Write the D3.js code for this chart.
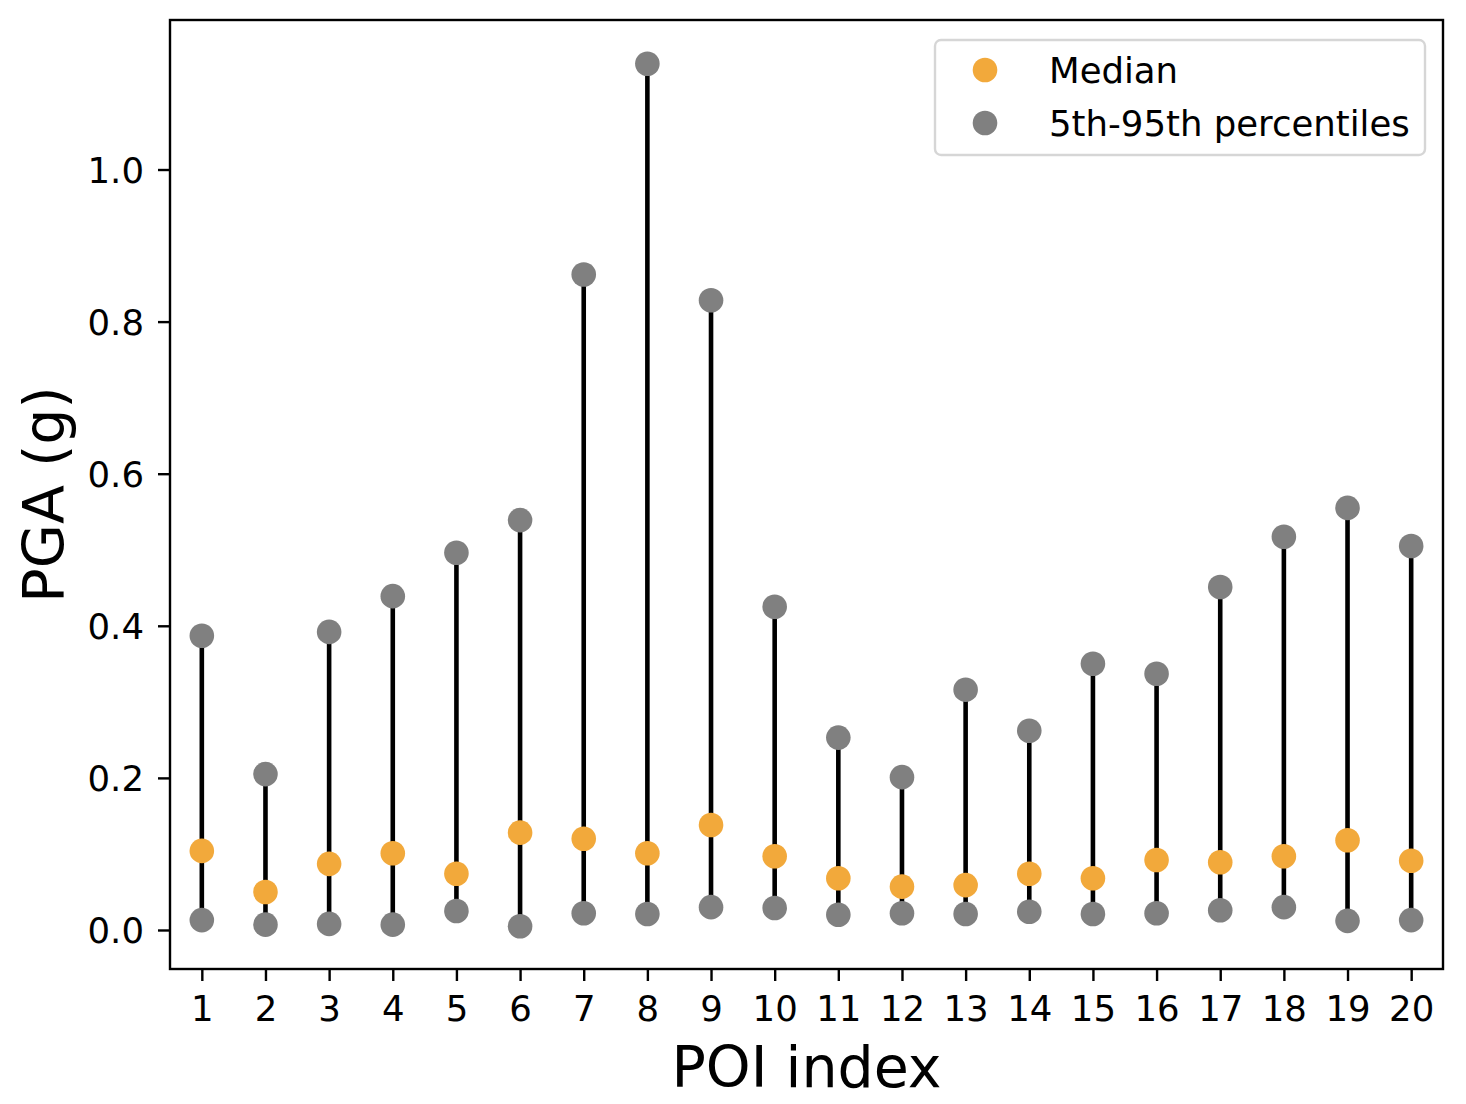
<!DOCTYPE html>
<html>
<head>
<meta charset="utf-8">
<script src="https://cdn.jsdelivr.net/npm/d3@7"></script>
<style>
  html, body { margin: 0; padding: 0; background: #fff; }
  svg { display: block; }
  text { font-family: "DejaVu Sans", sans-serif; fill: #000; }
</style>
</head>
<body>
<script>
const poi = [1,2,3,4,5,6,7,8,9,10,11,12,13,14,15,16,17,18,19,20];
const p95 = [0.387,0.205,0.392,0.439,0.496,0.539,0.862,1.139,0.828,0.425,0.253,0.201,0.316,0.262,0.350,0.337,0.451,0.517,0.555,0.505];
const median = [0.104,0.050,0.087,0.101,0.074,0.128,0.120,0.101,0.138,0.097,0.068,0.057,0.059,0.074,0.068,0.092,0.089,0.097,0.118,0.091];
const p05 = [0.013,0.007,0.008,0.007,0.025,0.005,0.022,0.021,0.030,0.029,0.020,0.022,0.021,0.024,0.021,0.022,0.026,0.030,0.012,0.013];
const yTicks = [0.0,0.2,0.4,0.6,0.8,1.0];
const legendLabels = ["Median", "5th-95th percentiles"];

const W = 1466, H = 1104;
const L = 170, R = 1443, T = 20, B = 969;
const orange = "#f2a93b", gray = "#808080";

const svg = d3.select("body").append("svg").attr("width", W).attr("height", H);

const x = d3.scaleLinear().domain([0.5, 20.5]).range([L, R]);
const y = d3.scaleLinear().domain([-0.0513, 1.1966]).range([B, T]);

// vertical lines
svg.append("g").selectAll("line").data(poi).join("line")
  .attr("x1", d => x(d)).attr("x2", d => x(d))
  .attr("y1", (d,i) => y(p05[i])).attr("y2", (d,i) => y(p95[i]))
  .attr("stroke", "#000").attr("stroke-width", 4.6);

const r = 12.3;
svg.append("g").selectAll("circle").data(poi).join("circle")
  .attr("cx", d => x(d)).attr("cy", (d,i) => y(p05[i])).attr("r", r).attr("fill", gray);
svg.append("g").selectAll("circle").data(poi).join("circle")
  .attr("cx", d => x(d)).attr("cy", (d,i) => y(p95[i])).attr("r", r).attr("fill", gray);
svg.append("g").selectAll("circle").data(poi).join("circle")
  .attr("cx", d => x(d)).attr("cy", (d,i) => y(median[i])).attr("r", r).attr("fill", orange);

// axes
const xAxis = d3.axisBottom(x).tickValues(poi).tickFormat(d3.format("d")).tickSize(12).tickPadding(15);
const gx = svg.append("g").attr("transform", `translate(0,${B})`).call(xAxis);
const yAxis = d3.axisLeft(y).tickValues(yTicks).tickFormat(d3.format(".1f")).tickSize(12).tickPadding(14);
const gy = svg.append("g").attr("transform", `translate(${L},0)`).call(yAxis);
[gx, gy].forEach(g => {
  g.select(".domain").remove();
  g.selectAll(".tick line").attr("stroke", "#000").attr("stroke-width", 2.4);
  g.selectAll(".tick text").attr("font-family", "DejaVu Sans").attr("font-size", 35.5).attr("fill", "#000");
});
gy.selectAll(".tick text").attr("dy", "0.36em");

// frame
svg.append("rect").attr("x", L).attr("y", T).attr("width", R - L).attr("height", B - T)
  .attr("fill", "none").attr("stroke", "#000").attr("stroke-width", 2.4);

// axis labels
svg.append("text").attr("x", (L + R) / 2).attr("y", 1087).attr("text-anchor", "middle")
  .attr("font-size", 57).text("POI index");
svg.append("text").attr("transform", `translate(64,${(T + B) / 2}) rotate(-90)`)
  .attr("text-anchor", "middle").attr("font-size", 57).text("PGA (g)");

// legend
const lg = svg.append("g");
lg.append("rect").attr("x", 935).attr("y", 40).attr("width", 490).attr("height", 115)
  .attr("rx", 6).attr("fill", "#fff").attr("fill-opacity", 0.8)
  .attr("stroke", "#d6d6d6").attr("stroke-width", 2.4);
const legColors = [orange, gray];
legendLabels.forEach((lab, i) => {
  const cy = 70 + i * 53;
  lg.append("circle").attr("cx", 985).attr("cy", cy).attr("r", r).attr("fill", legColors[i]);
  lg.append("text").attr("x", 1049).attr("y", cy).attr("dy", "0.36em")
    .attr("font-size", 35.5).text(lab);
});
</script>
</body>
</html>
